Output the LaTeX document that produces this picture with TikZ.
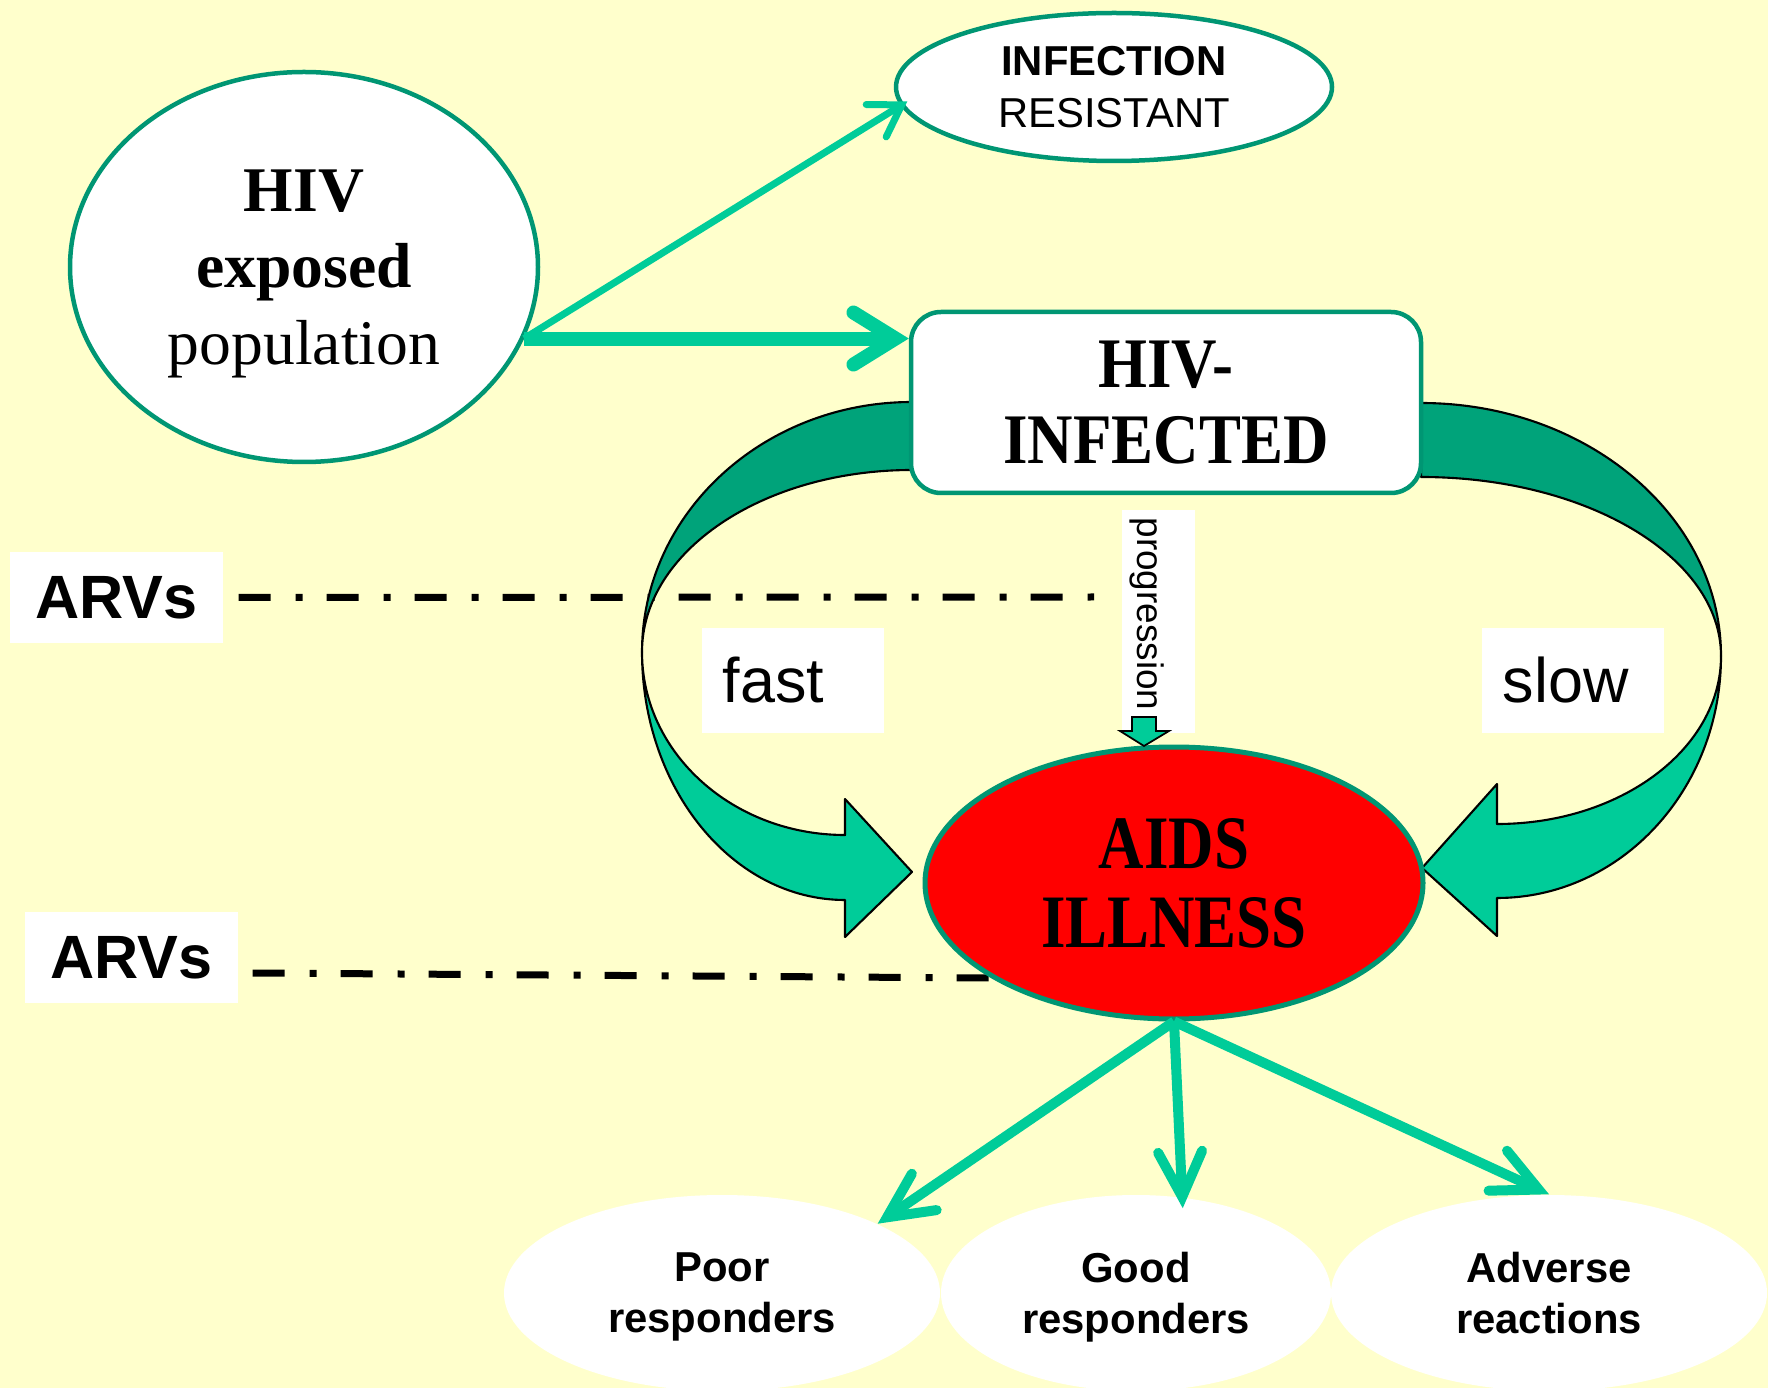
\documentclass[tikz,border=0pt]{standalone}
\usepackage{fontspec}
\setmainfont{Liberation Serif}
\setsansfont{Liberation Sans}
\usepackage{graphicx}
\usetikzlibrary{shapes.geometric,arrows.meta,calc}
\definecolor{paper}{RGB}{255,255,204}
\definecolor{rim}{RGB}{0,150,115}
\definecolor{mint}{RGB}{0,204,153}
\definecolor{deepmint}{RGB}{0,163,122}
\newcommand{\tallA}[1]{\scalebox{1}[1.13]{#1}}
\newcommand{\tallB}[1]{\scalebox{1}[1.2]{#1}}

\begin{document}
\begin{tikzpicture}[x=0.1mm, y=0.1mm,
    ring/.style={ellipse, draw=rim, line width=0.45mm, fill=white, inner sep=0pt, align=center},
    bubble/.style={ellipse, fill=white, inner sep=0pt, minimum width=43.6mm, minimum height=19.6mm, align=center, text depth=0pt, font=\sffamily\bfseries\fontsize{11.9pt}{14.5pt}\selectfont},
    tag/.style={fill=white, inner sep=0pt, minimum width=21.3mm, minimum height=9.1mm, font=\sffamily\bfseries\fontsize{17.4pt}{20pt}\selectfont},
    speed/.style={fill=white, anchor=west, inner xsep=2.1mm, inner ysep=0pt, minimum height=10.5mm, text width=14mm, align=left, font=\sffamily\fontsize{17.9pt}{20pt}\selectfont},
    arvline/.style={line width=0.7mm, dash pattern=on 3.2mm off 2.5mm on 0.7mm off 2.4mm},
    ribbon/.style={draw=black, line width=0.6pt, line join=round},
    outarrow/.style={draw=mint, line width=1mm, -{Straight Barb[length=4.5mm, width=4.4mm, line cap=round]}}]
    \useasboundingbox (0,0) rectangle (1768,-1388);
    \fill[paper] (0,0) rectangle (1768,-1388);
    \node[tag] (arvA) at (116.5,-597.5) {ARVs};
    \node[tag] (arvB) at (131.5,-957.5) {ARVs};
    \coordinate (stopA) at (1094,-597);
    \coordinate (stopB) at (990,-978);
    \draw[arvline] ([xshift=1.5mm]arvA.east) -- (stopA);
    \draw[arvline] ([xshift=1.4mm,yshift=-1.55mm]arvB.east) -- (stopB);
    \coordinate (twistL) at (642,-652);
    \coordinate (twistR) at (1721,-656);
    \filldraw[ribbon, fill=deepmint] (912,-402) arc[start angle=90, end angle=180, x radius=27mm, y radius=25mm] arc[start angle=180, end angle=90, x radius=27mm, y radius=18.2mm] -- cycle;
    \filldraw[ribbon, fill=mint] (twistL) arc[start angle=180, end angle=270, x radius=20.3mm, y radius=24.8mm] -- (845,-937) -- (912,-872) -- (845,-799) -- (845,-835) arc[start angle=270, end angle=180, x radius=20.3mm, y radius=18.3mm] -- cycle;
    \filldraw[ribbon, fill=deepmint] (1421,-403) arc[start angle=90, end angle=0, x radius=30mm, y radius=25.3mm] arc[start angle=0, end angle=90, x radius=30mm, y radius=17.9mm] -- cycle;
    \filldraw[ribbon, fill=mint] (twistR) arc[start angle=0, end angle=-90, x radius=22.4mm, y radius=24.2mm] -- (1497,-936) -- (1422,-868) -- (1497,-784) -- (1497,-824) arc[start angle=-90, end angle=0, x radius=22.4mm, y radius=16.8mm] -- cycle;
    \node[ring, rectangle, rounded corners=3mm, minimum width=51mm, minimum height=18.1mm, font=\bfseries\fontsize{17.9pt}{21.6pt}\selectfont] (inf) at (1166,-402.5) {\tallA{HIV-}\\\tallA{INFECTED}};
    \node[ring, fill=red, line width=0.5mm, minimum width=49.8mm, minimum height=27.2mm, font=\bfseries\fontsize{17.9pt}{22.5pt}\selectfont] (aids) at (1174,-883) {\tallB{AIDS}\\\tallB{ILLNESS}};
    \node[ring, minimum width=46.8mm, minimum height=39mm, text depth=0pt, font=\fontsize{18.1pt}{21.8pt}\selectfont] (hiv) at (304,-267) {\textbf{HIV}\\\textbf{exposed}\\population};
    \node[ring, minimum width=43.6mm, minimum height=14.8mm, font=\sffamily\fontsize{11.9pt}{14.8pt}\selectfont] (res) at (1114,-87) {\textbf{INFECTION}\\RESISTANT};
    \coordinate (hx) at (hiv.-18.6);
    \draw[mint, line width=0.7mm, shorten >=-0.8mm, -{Straight Barb[length=3mm, width=3.8mm, line cap=round]}] (hx) -- (res.185);
    \draw[mint, line width=1.4mm, -{Straight Barb[length=4.2mm, width=5.2mm, line cap=round]}] (hx) -- (hx -| inf.west);
    \fill[white] (1122,-510) rectangle (1195,-733);
    \node[rotate=-90, inner sep=0pt, font=\sffamily\fontsize{10.5pt}{12pt}\selectfont] (prog) at (1147,-614) {progression};
    \filldraw[fill=mint, draw=black, line width=0.5pt] (1132,-717) -- (1156,-717) -- (1156,-731) -- (1169,-731) -- (1144,-746) -- (1120,-731) -- (1132,-731) -- cycle;
    \node[speed] (fast) at (701,-680.5) {fast};
    \node[speed] (slow) at (1481,-680.5) {slow};
    \node[bubble] (poor) at (722,-1293) {Poor\\responders};
    \node[bubble, minimum width=39mm] (good) at (1136,-1293) {Good\\responders};
    \node[bubble] (adverse) at (1549,-1293) {Adverse\\reactions};
    \draw[outarrow] (aids.south) -- (poor.24);
    \draw[outarrow] (aids.south) -- ([yshift=-1.1mm]good.64);
    \draw[outarrow] (aids.south) -- (adverse.north);
\end{tikzpicture}
\end{document}
